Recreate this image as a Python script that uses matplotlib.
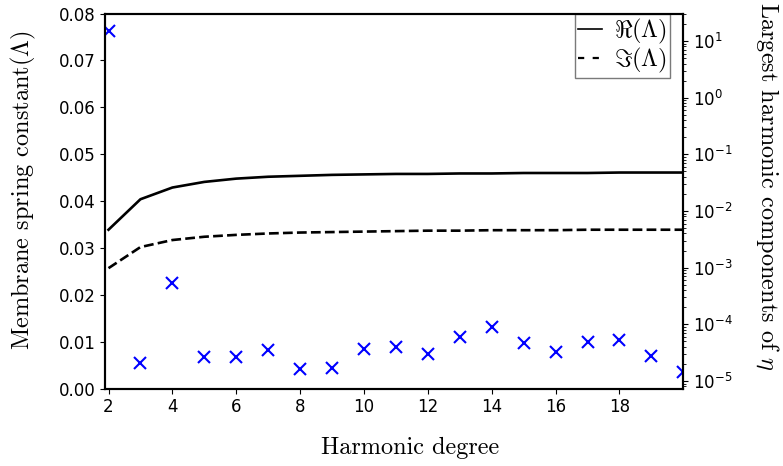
import numpy as np
import matplotlib.pyplot as plt

# Degrés harmoniques
degres = np.arange(2, 21)

# Constante de raideur de la membrane (partie réelle / imaginaire)
lambda_re = [0.0339, 0.0404, 0.0429, 0.0441, 0.0448, 0.0452, 0.0454, 0.0456, 0.0457,
             0.0458, 0.0458, 0.0459, 0.0459, 0.0460, 0.0460, 0.0460, 0.0461, 0.0461, 0.0461]
lambda_im = [0.0257, 0.0302, 0.0317, 0.0324, 0.0328, 0.0331, 0.0333, 0.0334, 0.0335,
             0.0336, 0.0337, 0.0337, 0.0338, 0.0338, 0.0338, 0.0339, 0.0339, 0.0339, 0.0339]

# Plus grandes composantes harmoniques de eta
eta_max = [15.2, 2.05e-5, 5.4e-4, 2.69e-5, 2.69e-5, 3.5e-5, 1.59e-5, 1.67e-5, 3.72e-5,
           4.03e-5, 2.95e-5, 6.05e-5, 9.1e-5, 4.6e-5, 3.3e-5, 4.87e-5, 5.27e-5, 2.72e-5, 1.46e-5]

plt.rcParams['axes.linewidth'] = 1.5
plt.rcParams['xtick.labelsize'] = 12
plt.rcParams['ytick.labelsize'] = 12

fig = plt.figure(figsize=(7.83, 4.66), dpi=100)
ax = fig.add_axes([0.1345, 0.166, 0.7382, 0.8048])

ax.plot(degres, lambda_re, 'k-', lw=1.9, label=r'$\Re(\Lambda)$')
ax.plot(degres, lambda_im, 'k--', lw=1.9, label=r'$\Im(\Lambda)$')
ax.set_xlim(1.9, 20)
ax.set_ylim(0, 0.08)
ax.set_xticks(range(2, 20, 2))
ax.set_xlabel('Harmonic degree', family='cmr10', fontsize=17.5)
ax.xaxis.set_label_coords(0.527, -0.128)
ax.set_ylabel(r'Membrane spring constant$(\Lambda)$', family='cmr10',
              math_fontfamily='cm', fontsize=17.5, ha='center', va='center')
ax.yaxis.set_label_coords(-0.142, 0.53)

ax2 = ax.twinx()
ax2.semilogy(degres, eta_max, 'bx', ms=8, mew=1.5)
ax2.set_ylabel(r'Largest harmonic components of $\eta$', family='cmr10',
               math_fontfamily='cm', fontsize=17.5, rotation=270,
               ha='center', va='center')
ax2.yaxis.set_label_coords(1.146, 0.538)

leg = ax.legend(loc='upper right', bbox_to_anchor=(0.977, 1.0), borderaxespad=0,
                fancybox=False, edgecolor='0.35', fontsize=17.5, handlelength=1.0,
                borderpad=0.12, labelspacing=0.0, handletextpad=0.5)
leg.get_frame().set_linewidth(1.0)
for t in leg.get_texts():
    t.set_math_fontfamily('cm')
handles = leg.get_lines()
handles[0].set_linewidth(1.2)
handles[1].set_linewidth(1.6)
handles[1].set_linestyle((0, (2.8, 3.8)))

fig.savefig('out.png', dpi=100)
